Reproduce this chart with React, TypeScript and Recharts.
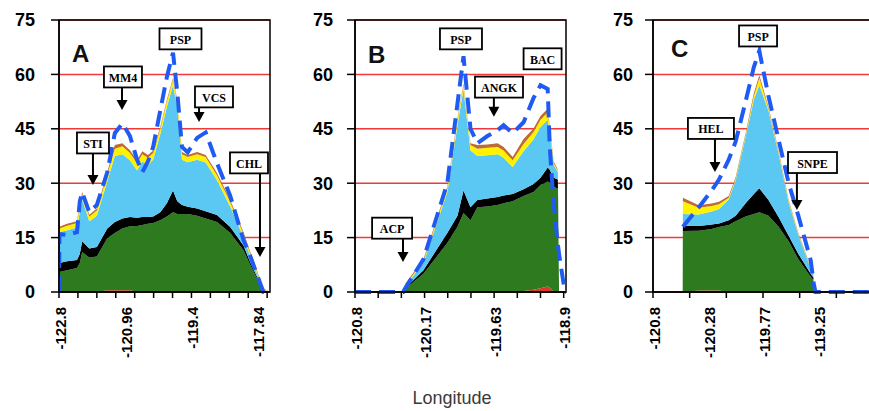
import React from 'react';
import {
  ComposedChart,
  Area,
  Line,
  XAxis,
  YAxis,
  CartesianGrid,
  ReferenceDot,
  ReferenceLine,
  ReferenceArea,
} from 'recharts';

// ---------- shared ----------
const yTicks = [0, 15, 30, 45, 60, 75];

// ---------- Panel A ----------
const xA = [0, 0.05, 0.85, 1.9, 2.2, 2.45, 3.2, 4.0, 5.1, 5.9, 6.7, 7.5, 8.25, 8.8, 9.4, 9.95, 10.7, 11.4, 12.05, 12.5, 13.0, 13.6, 14.6, 15.5, 16.7, 18.1, 19.5, 20.2, 21.6, 22.3];
const redA = [0, 0, 0, 0, 0, 0, 0, 0, 0.5, 0.5, 0.5, 0.5, 0, 0, 0, 0, 0, 0, 0, 0, 0, 0, 0, 0, 0, 0, 0, 0, 0, 0];
const greenA = [5.5, 5.5, 6, 6.6, 8, 11, 9.5, 9.8, 14.3, 15.8, 17, 17.6, 18.2, 18.5, 18.8, 19, 19.8, 20.8, 22, 21.5, 21.5, 21.5, 21, 20.3, 19.3, 16.3, 11.5, 7.5, 0.3, 0];
const blackA = [2.5, 2.5, 2.5, 2.2, 2.5, 3, 2.5, 2.6, 2.7, 3, 2.8, 2.6, 2.3, 2.2, 1.9, 1.8, 2.2, 3.7, 6, 3.5, 2.5, 2, 2, 2, 1.9, 1.6, 1.3, 0.8, 0.1, 0];
const blueA = [8.5, 8.5, 8.5, 9, 11.5, 11.5, 7.5, 8.6, 13, 18.2, 17.7, 15.6, 13, 15.3, 14.3, 15.7, 21.5, 26.5, 29, 26, 12.5, 12.3, 13.5, 13.4, 9.6, 5.6, 2.2, 1.7, 0.2, 0];
const yellowA = [1, 1, 1.3, 1.2, 1.5, 1.5, 1.3, 1.5, 1.8, 2, 2.2, 2, 2, 2, 2, 1.8, 1.5, 1.5, 1.5, 1.5, 1.5, 1.4, 1.5, 1.5, 1.4, 1.3, 1, 0.7, 0.2, 0];
const brownA = [0.5, 0.5, 0.5, 0.5, 0.5, 0.6, 0.5, 0.5, 0.7, 1, 0.8, 0.8, 0.9, 0.8, 0.8, 0.7, 0.5, 0.5, 0.5, 0.5, 0.6, 0.6, 0.6, 0.6, 0.6, 0.6, 0.5, 0.5, 0.2, 0];
const dashA = [0, 16, 15.7, 16.5, 25, 27.5, 22, 24, 33, 43.8, 46.5, 43, 36.5, 33, 36, 40, 50, 59.3, 66, 55, 40, 38.5, 42.5, 44, 35.5, 26.5, 14.3, 10, 0, 0];
const marksA = [0, 2, 4, 6, 8, 10, 12, 14, 16, 18, 20, 22];
const labelPosA = [0, 7, 14, 21];
const labelsA = ['-122.8', '-120.96', '-119.4', '-117.84'];
const annA = [
  { label: 'PSP', x: 12.84, y: 69.8, w: 42 },
  { label: 'MM4', x: 6.76, y: 59.3, w: 38, ax: 6.66, y1: 56.5, y2: 50.2 },
  { label: 'STI', x: 3.59, y: 41.1, w: 32, ax: 3.59, y1: 38.3, y2: 29.5 },
  { label: 'VCS', x: 16.38, y: 53.8, w: 38, ax: 14.8, y1: 51, y2: 46.9 },
  { label: 'CHL', x: 20.08, y: 35.6, w: 38, ax: 21.24, y1: 32.8, y2: 9.65 },
];

// ---------- Panel B ----------
const xB = [0, 2.08, 2.16, 2.95, 3.98, 4.42, 4.68, 4.98, 5.28, 5.71, 6.15, 6.41, 6.8, 7.27, 7.7, 8.0, 8.31, 8.4, 8.57, 8.75, 8.8, 9.05, 9.1];
const redB = [0, 0, 0, 0, 0, 0, 0, 0, 0, 0, 0, 0, 0, 0.3, 0.6, 1, 1.5, 1.2, 0, 0, 0, 0, 0];
const greenB = [0, 0, 0.8, 5, 13.5, 18, 21.8, 19.8, 23.4, 23.6, 24, 24.5, 25, 26.2, 27, 28.5, 29, 29, 29, 28.5, 0, 0, 0];
const blackB = [0, 0, 0.2, 1, 2.8, 3, 6.2, 3.6, 2, 2.2, 2.2, 2.1, 2, 1.8, 2.2, 2, 3.8, 3.5, 2.5, 2.5, 0, 0, 0];
const blueB = [0, 0, 0.6, 2, 11.2, 25, 28, 15.6, 12.1, 11.9, 11.8, 10.4, 7.5, 10.5, 12.3, 14, 13.2, 10.5, 3.5, 2, 0, 0, 0];
const yellowB = [0, 0, 0.3, 0.5, 1, 1.5, 1, 1.5, 2, 2.1, 2, 2, 1.8, 2, 2, 2, 2, 1, 0.5, 0.4, 0, 0, 0];
const brownB = [0, 0, 0.3, 0.5, 0.5, 0.5, 0.5, 0.5, 1, 0.9, 1, 1, 0.9, 1.4, 1, 1, 1, 0.5, 0.5, 0.3, 0, 0, 0];
const dashB = [0, 0, 1, 9, 30, 52, 65, 45, 41, 43, 44.6, 46, 43.8, 46.8, 53.5, 57, 56, 40, 24, 13, 10.5, 0, 0];
const marksB = [0, 1, 2, 3, 4, 5, 6, 7, 8, 9];
const labelPosB = [0, 3, 6, 9];
const labelsB = ['-120.8', '-120.17', '-119.63', '-118.9'];
const annB = [
  { label: 'PSP', x: 4.57, y: 69.8, w: 42 },
  { label: 'ANGK', x: 6.21, y: 56.5, w: 48, ax: 5.99, y1: 53.8, y2: 48.3 },
  { label: 'BAC', x: 8.09, y: 64.3, w: 38 },
  { label: 'ACP', x: 1.6, y: 17.6, w: 40, ax: 2.07, y1: 14.9, y2: 8.3 },
];

// ---------- Panel C ----------
const xC = [1.62, 1.63, 2.5, 3.2, 3.6, 4.13, 4.51, 5.05, 5.5, 5.8, 6.3, 6.85, 7.4, 7.93, 8.6, 8.75, 8.76, 8.86, 12];
const redC = [0, 0, 0.4, 0.4, 0.4, 0, 0, 0, 0, 0, 0, 0, 0, 0, 0, 0, 0, 0, 0];
const greenC = [0, 16.8, 16.5, 17, 17.5, 18.5, 19.5, 20.8, 21.5, 22, 21, 18, 14, 9, 4.2, 3.3, 0, 0, 0];
const blackC = [0, 1.5, 1.3, 1.2, 1, 1.3, 1.5, 3.7, 5.5, 6.6, 4.4, 2.7, 1.5, 1.5, 0.8, 0.7, 0, 0, 0];
const blueC = [0, 3.2, 3.2, 3.6, 4, 5.7, 9.8, 18.3, 26, 28.4, 24.6, 17.5, 9.1, 5.2, 1.6, 1, 0, 0, 0];
const yellowC = [0, 3.5, 1.8, 1.5, 1.3, 0.5, 0.4, 0.5, 1, 2, 0.5, 0.4, 0.4, 0.3, 0.2, 0.3, 0, 0, 0];
const brownC = [0, 1, 0.7, 0.7, 0.7, 0.5, 0.5, 0.5, 0.8, 0.8, 0.5, 0.4, 0.4, 0.3, 0.2, 0.2, 0, 0, 0];
const dashC = [null, 18, 23.4, 28, 31, 36.5, 41.5, 52.5, 62, 66.5, 54, 42, 30, 21, 8.8, 3, 2.5, 0, 0];
const marksC = [0, 2, 4, 6, 8, 10, 12];
const labelPosC = [0, 3, 6, 9];
const labelsC = ['-120.8', '-120.28', '-119.77', '-119.25'];
const annC = [
  { label: 'PSP', x: 5.73, y: 70.6, w: 38 },
  { label: 'HEL', x: 3.16, y: 45.1, w: 46, ax: 3.38, y1: 42.2, y2: 33.1 },
  { label: 'SNPE', x: 8.7, y: 35.7, w: 49, ax: 7.85, y1: 32.8, y2: 22.6 },
];

// ---------- helpers ----------
function rows(x: number[], red: number[], green: number[], black: number[], blue: number[], yellow: number[], brown: number[], dash: (number | null)[]) {
  return x.map((v, i) => ({
    x: v,
    red: red[i],
    green: green[i],
    black: black[i],
    blue: blue[i],
    yellow: yellow[i],
    brown: brown[i],
    dash: dash[i],
  }));
}

const SANS = 'Liberation Sans, Arial, Helvetica, sans-serif';
const SERIF = 'Liberation Serif, Times New Roman, serif';

const COLORS = {
  red: '#E0372A',
  green: '#2E7A1F',
  black: '#000000',
  blue: '#5BC8F4',
  yellow: '#FFF200',
  brown: '#BE6A32',
  dash: '#1F5BF2',
  grid: '#F03A3A',
};

function makeXTick(marks: number[], labelPos: number[], labels: string[]) {
  return (props: any) => {
    const { x, y, payload } = props;
    const v = payload.value;
    const li = labelPos.indexOf(v);
    const tx = x + 1;
    const ty = y + 15;
    return (
      <g>
        {marks.includes(v) && (
          <line x1={x} x2={x} y1={y} y2={y + 6} stroke="#000" strokeWidth={1.5} />
        )}
        {li >= 0 && (
          <text
            x={tx}
            y={ty}
            transform={`rotate(-90 ${tx} ${ty})`}
            textAnchor="end"
            dominantBaseline="central"
            fontSize={15}
            fontWeight={700}
            fontFamily={SANS}
            fill="#000"
          >
            {labels[li]}
          </text>
        )}
      </g>
    );
  };
}

function makeYTick(extra: number) {
  return (props: any) => {
    const { x, y, payload } = props;
    return (
      <text
        x={x - extra}
        y={y}
        dy="0.355em"
        textAnchor="end"
        fontSize={18}
        fontWeight={700}
        fontFamily={SANS}
        fill="#000"
      >
        {payload.value}
      </text>
    );
  };
}

const BoxShape = (props: any) => {
  const { cx, cy, label, w } = props;
  return (
    <g>
      <rect x={cx - w / 2} y={cy - 10.5} width={w} height={21} fill="#fff" stroke="#000" strokeWidth={1.8} />
      <text
        x={cx}
        y={cy + 1}
        textAnchor="middle"
        dominantBaseline="central"
        fontSize={12}
        fontWeight={700}
        fontFamily={SERIF}
        fill="#000"
      >
        {label}
      </text>
    </g>
  );
};

const ArrowHead = (props: any) => {
  const { cx, cy } = props;
  return <polygon points={`${cx - 5.5},${cy - 10} ${cx + 5.5},${cy - 10} ${cx},${cy}`} fill="#000" />;
};

type Ann = { label: string; x: number; y: number; w: number; ax?: number; y1?: number; y2?: number };

function Panel(props: {
  left: number;
  width: number;
  yAxisWidth: number;
  labelGap: number;
  domainMax: number;
  data: any[];
  marks: number[];
  labelPos: number[];
  labels: string[];
  anns: Ann[];
}) {
  const { left, width, yAxisWidth, labelGap, domainMax, data, marks, labelPos, labels, anns } = props;
  const ticks = Array.from(new Set([...marks, ...labelPos])).sort((a, b) => a - b);
  const series: (keyof typeof COLORS)[] = ['red', 'green', 'black', 'blue', 'yellow', 'brown'];
  return (
    <div style={{ position: 'absolute', left, top: 0 }}>
      <ComposedChart width={width} height={360} data={data} margin={{ top: 20, right: 10, left: 0, bottom: 0 }}>
        <CartesianGrid horizontal vertical={false} stroke={COLORS.grid} strokeWidth={1.5} />
        {series.map((k) => (
          <Area
            key={k}
            type="linear"
            dataKey={k}
            stackId="s"
            stroke="none"
            fill={COLORS[k]}
            fillOpacity={1}
            dot={false}
            activeDot={false}
            isAnimationActive={false}
          />
        ))}
        <XAxis
          type="number"
          dataKey="x"
          domain={[0, domainMax]}
          ticks={ticks}
          interval={0}
          allowDataOverflow
          tick={makeXTick(marks, labelPos, labels)}
          tickLine={false}
          tickSize={0}
          tickMargin={0}
          height={68}
          axisLine={{ stroke: '#000', strokeWidth: 1.5 }}
        />
        <YAxis
          type="number"
          domain={[0, 75]}
          ticks={yTicks}
          interval={0}
          width={yAxisWidth}
          tickSize={8}
          tickMargin={2}
          tick={makeYTick(labelGap - 10)}
          tickLine={{ stroke: '#000', strokeWidth: 1.5 }}
          axisLine={{ stroke: '#000', strokeWidth: 1.5 }}
        />
        <ReferenceArea
          x1={0}
          x2={domainMax}
          y1={0}
          y2={75}
          fill="none"
          fillOpacity={0}
          stroke="#000"
          strokeWidth={1.5}
          ifOverflow="visible"
        />
        <Line
          type="linear"
          dataKey="dash"
          stroke={COLORS.dash}
          strokeWidth={4}
          strokeDasharray="16 8"
          dot={false}
          activeDot={false}
          connectNulls={false}
          isAnimationActive={false}
        />
        {anns
          .filter((a) => a.ax !== undefined)
          .map((a) => (
            <ReferenceLine
              key={'l' + a.label}
              segment={[
                { x: a.ax as number, y: a.y1 as number },
                { x: a.ax as number, y: (a.y2 as number) + 2 },
              ]}
              stroke="#000"
              strokeWidth={2}
              ifOverflow="visible"
            />
          ))}
        {anns
          .filter((a) => a.ax !== undefined)
          .map((a) => (
            <ReferenceDot
              key={'h' + a.label}
              x={a.ax as number}
              y={a.y2 as number}
              r={1}
              ifOverflow="visible"
              shape={(p: any) => <ArrowHead {...p} />}
            />
          ))}
        {anns.map((a) => (
          <ReferenceDot
            key={'b' + a.label}
            x={a.x}
            y={a.y}
            r={1}
            ifOverflow="visible"
            shape={(p: any) => <BoxShape {...p} label={a.label} w={a.w} />}
          />
        ))}
      </ComposedChart>
    </div>
  );
}

export default function App() {
  const dataA = rows(xA, redA, greenA, blackA, blueA, yellowA, brownA, dashA);
  const dataB = rows(xB, redB, greenB, blackB, blueB, yellowB, brownB, dashB);
  const dataC = rows(xC, redC, greenC, blackC, blueC, yellowC, brownC, dashC);
  return (
    <>
      <style>{'html,body{margin:0;padding:0;overflow:hidden;background:#fff;}'}</style>
      <div style={{ position: 'fixed', left: 0, top: 0, width: 869, height: 411, overflow: 'hidden', background: '#fff' }}>
        <Panel left={0} width={280} yAxisWidth={59} labelGap={24} domainMax={22.3} data={dataA} marks={marksA} labelPos={labelPosA} labels={labelsA} anns={annA} />
        <Panel left={290} width={286} yAxisWidth={65} labelGap={22} domainMax={9.1} data={dataB} marks={marksB} labelPos={labelPosB} labels={labelsB} anns={annB} />
        <Panel left={580} width={303} yAxisWidth={73} labelGap={20} domainMax={12} data={dataC} marks={marksC} labelPos={labelPosC} labels={labelsC} anns={annC} />
        <svg width={869} height={411} style={{ position: 'absolute', left: 0, top: 0, pointerEvents: 'none' }}>
          <text x={72} y={62} fontSize={24} fontWeight={700} fontFamily={SANS} fill="#111">A</text>
          <text x={368} y={63} fontSize={24} fontWeight={700} fontFamily={SANS} fill="#111">B</text>
          <text x={671} y={57} fontSize={24} fontWeight={700} fontFamily={SANS} fill="#111">C</text>
          <text x={452} y={404} fontSize={18} fontFamily={SANS} fill="#3a3a3a" textAnchor="middle">Longitude</text>
        </svg>
      </div>
    </>
  );
}
